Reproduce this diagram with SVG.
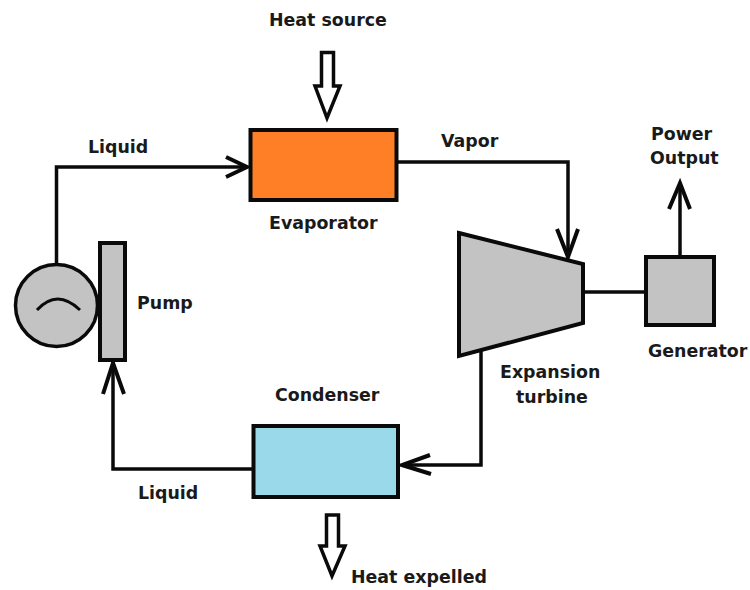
<svg xmlns="http://www.w3.org/2000/svg" width="750" height="590" viewBox="0 0 750 590">
<style>
text{font-family:"DejaVu Sans",Verdana,sans-serif;font-weight:bold;font-size:17.400px;fill:#1a1a1a}
.s{stroke:#0a0a0a;stroke-width:3.500;fill:none}
.b{stroke:#0a0a0a;stroke-width:4;fill:none}
.g{fill:#c3c3c3;stroke:#0a0a0a;stroke-width:4}
.a{fill:#fff;stroke:#0a0a0a;stroke-width:3.500;stroke-linejoin:miter}
</style>
<rect width="750" height="590" fill="#fff"/>
<g id="connectors">
<path class="s" d="M56.500 264V167H246"/><path class="b" d="M226 157L247 167L226 177"/>
<path class="s" d="M398 162H568V256"/><path class="b" d="M557 229L568 257L578 229"/>
<path class="s" d="M481 350V465H402"/><path class="b" d="M430 455L402 465L431 474"/>
<path class="s" d="M252 469H113V362"/><path class="b" d="M103 394L113 363L124 394"/>
<path class="s" d="M584 292H645"/>
<path class="s" d="M680 255V183"/><path class="b" d="M669 209L680 183L690 209"/>
</g>
<g id="heat-source"><path class="a" d="M321.500 52.500H333.500V86H340L327 118L315 86H321.500Z"/><text x="269" y="26">Heat source</text></g>
<g id="evaporator"><rect x="250.500" y="130" width="146" height="70" fill="#ff7f27" stroke="#0a0a0a" stroke-width="4"/><text x="269" y="229">Evaporator</text></g>
<g id="turbine"><path class="g" d="M459 233L583 264V323L459 356Z"/><text x="500" y="378">Expansion</text><text x="516" y="403">turbine</text></g>
<g id="generator"><rect class="g" x="646" y="257" width="68" height="68"/><text x="648" y="357">Generator</text></g>
<g id="power"><text x="651" y="140">Power</text><text x="650" y="164">Output</text></g>
<g id="condenser"><rect x="253.500" y="426" width="144.500" height="71" fill="#99d9ea" stroke="#0a0a0a" stroke-width="4"/><text x="275" y="401">Condenser</text></g>
<g id="heat-expelled"><path class="a" d="M326.500 515H338.500V546H345L332 576L320 546H326.500Z"/><text x="351" y="583">Heat expelled</text></g>
<g id="pump"><circle cx="56.500" cy="305.500" r="41" fill="#c3c3c3" stroke="#0a0a0a" stroke-width="3.500"/><path d="M37 310Q57 288 80 310" fill="none" stroke="#0a0a0a" stroke-width="3"/><rect class="g" x="100" y="243" width="25" height="117"/><text x="137" y="309">Pump</text></g>
<g id="labels"><text x="88" y="153">Liquid</text><text x="441" y="147">Vapor</text><text x="138" y="499">Liquid</text></g>
</svg>
